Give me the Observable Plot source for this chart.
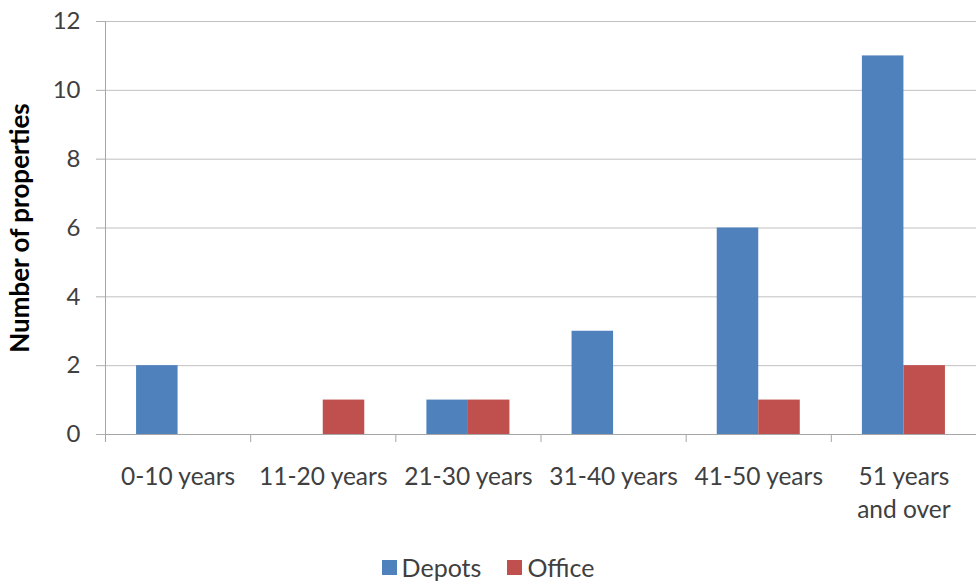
<!DOCTYPE html>
<html><head><meta charset="utf-8">
<script src="https://cdn.jsdelivr.net/npm/d3@7"></script>
<script src="https://cdn.jsdelivr.net/npm/@observablehq/plot@0.6"></script>
<style>
body{margin:0;background:#fff;font-family:Lato,sans-serif;}
#legend{display:flex;justify-content:center;align-items:center;margin-top:12px;font-size:25px;color:#404040;}
#legend .item{display:flex;align-items:center;margin:0 13px;}
#legend .sw{width:15px;height:15px;margin-right:5px;}
</style></head><body><div id="chart"></div><div id="legend"></div>
<script>
const categories = ["0-10 years","11-20 years","21-30 years","31-40 years","41-50 years","51 years\nand over"];
const depots = [2, 0, 1, 3, 6, 11];
const office = [0, 1, 1, 0, 1, 2];
const seriesNames = ["Depots", "Office"];
const seriesColors = ["#4F81BD", "#C0504D"];
const yTicks = [0, 2, 4, 6, 8, 10, 12];
const yTitle = "Number of properties";

const rows = categories.flatMap((c, i) => [
  {cat: c, i, series: seriesNames[0], value: depots[i]},
  {cat: c, i, series: seriesNames[1], value: office[i]}
]);
const barW = 0.286;
const pos = (d) => d.series === seriesNames[0] ? [d.i + 0.5 - barW, d.i + 0.5] : [d.i + 0.5, d.i + 0.5 + barW];

const chart = Plot.plot({
  width: 976, height: 540,
  marginLeft: 105, marginRight: 0, marginTop: 21, marginBottom: 106,
  style: {fontFamily: "Lato, sans-serif", fontSize: "25px", color: "#404040", background: "#fff"},
  x: {domain: [0, categories.length], axis: null},
  y: {domain: [0, 12], axis: null},
  color: {domain: seriesNames, range: seriesColors},
  marks: [
    Plot.gridY(yTicks, {stroke: "#C0C0C0", strokeOpacity: 1}),
    Plot.axisY(yTicks, {tickSize: 9, tickPadding: 16, stroke: "#B0B0B0", label: null, fill: "#404040", fontSize: 24}),
    Plot.ruleX([0], {stroke: "#A6A6A6"}),
    Plot.rectY(rows, {x1: d => pos(d)[0], x2: d => pos(d)[1], y: "value", fill: "series"}),
    Plot.ruleY([0], {stroke: "#A6A6A6"}),
    Plot.axisX(d3.range(0, categories.length + 1), {tickSize: 8, tickFormat: () => "", stroke: "#A6A6A6", label: null}),
    Plot.axisX(categories.map((c, i) => i + 0.5), {tickSize: 0, tickPadding: 26, tickFormat: d => categories[Math.floor(d)], lineHeight: 1.38, fontSize: 24.5, fill: "#404040", label: null}),
    Plot.text([yTitle], {frameAnchor: "left", textAnchor: "middle", rotate: -90, dx: -85, fontWeight: "bold", fontSize: 26, fill: "#000"})
  ]
});
document.getElementById("chart").append(chart);

const legend = d3.select("#legend");
seriesNames.forEach((s, k) => {
  const it = legend.append("div").attr("class", "item");
  it.append("div").attr("class", "sw").style("background", seriesColors[k]);
  it.append("span").text(s);
});
</script></body></html>
